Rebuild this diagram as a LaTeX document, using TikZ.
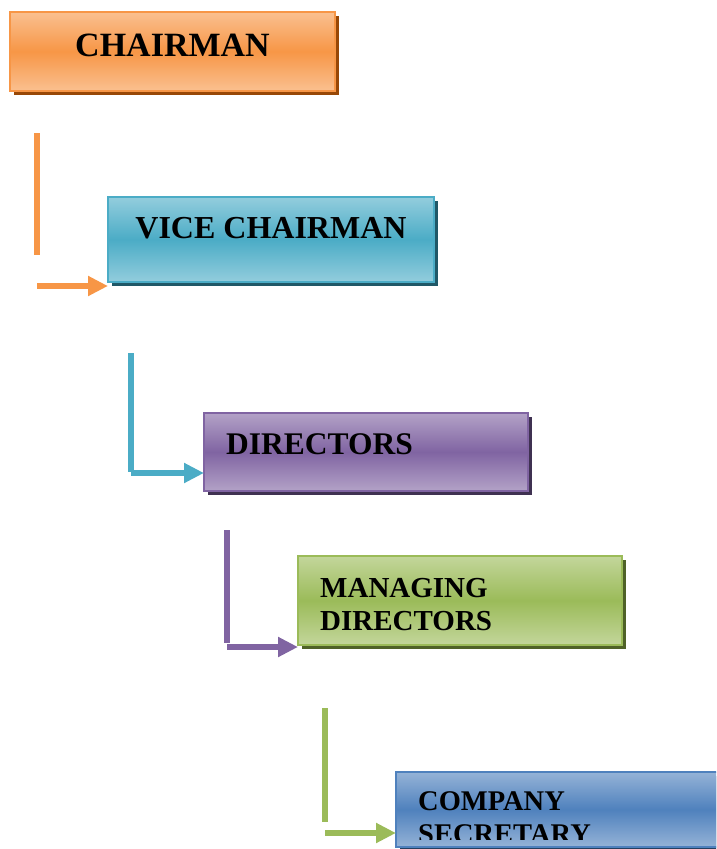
\documentclass[tikz,border=0pt]{standalone}
\usepackage{fontspec}
\setmainfont{Liberation Serif}
\usetikzlibrary{arrows.meta}
\usetikzlibrary{shadows}
\usetikzlibrary{positioning}
\definecolor{orangelight}{HTML}{FAC090}\definecolor{orangemid}{HTML}{F79646}\definecolor{orangedark}{HTML}{984807}
\definecolor{teallight}{HTML}{93CDDD}\definecolor{tealmid}{HTML}{4BACC6}\definecolor{tealdark}{HTML}{205867}
\definecolor{purplelight}{HTML}{B3A2C7}\definecolor{purplemid}{HTML}{8064A2}\definecolor{purpledark}{HTML}{3F3151}
\definecolor{greenlight}{HTML}{C3D69B}\definecolor{greenmid}{HTML}{9BBB59}\definecolor{greendark}{HTML}{4F6228}
\definecolor{bluelight}{HTML}{95B3D7}\definecolor{bluemid}{HTML}{4F81BD}\definecolor{bluedark}{HTML}{244061}
\begin{document}
\begin{tikzpicture}[x=1pt,y=-1pt,
  post/.style={draw=#1mid,line width=2pt,inner sep=0pt,outer sep=0pt,anchor=north west,
    top color=#1light,bottom color=#1light,middle color=#1mid,
    general shadow={shadow xshift=4pt,shadow yshift=-4pt,fill=#1dark}},
  link/.style={draw=#1mid,line width=6pt},
  linkarrow/.style={link=#1,-{Triangle[length=20pt,width=19pt]}},
  title/.style={inner sep=0pt,align=left,font=\bfseries\fontsize{#1}{33}\selectfont}]
  \clip (0,0) rectangle (716,849);
  \node[post=orange,minimum width=325pt,minimum height=79pt] (chair) at (10,12) {};
  \node[post=teal,minimum width=326pt,minimum height=85pt] (vice) at (108,197) {};
  \node[post=purple,minimum width=324pt,minimum height=78pt] (dirs) at (204,413) {};
  \node[post=green,minimum width=324pt,minimum height=89pt] (mdirs) at (298,556) {};
  \node[post=blue,minimum width=340pt,minimum height=75pt] (csec) at (396,772) {};
  \node[title=34,anchor=base] (chairtext) at ([shift={(162.5,44)}]chair.north west) {CHAIRMAN};
  \node[title=32,anchor=base] (vicetext) at ([shift={(163,41)}]vice.north west) {VICE CHAIRMAN};
  \node[title=31.5,anchor=base west] (dirstext) at ([shift={(22,41)}]dirs.north west) {DIRECTORS};
  \node[title=29,anchor=base west] (mdirstext) at ([shift={(22,74)}]mdirs.north west) {MANAGING\\DIRECTORS};
  \begin{scope}
    \clip (csec.north west) rectangle (716,839);
    \node[title=28.5,anchor=base west] (csectext) at ([shift={(22,71)}]csec.north west) {COMPANY\\SECRETARY};
  \end{scope}
  \coordinate (o1) at (37,133); \coordinate (o2) at (37,255); \coordinate (o3) at (37,286);
  \coordinate (t1) at (131,353); \coordinate (t2) at (131,472); \coordinate (t3) at (131,473);
  \coordinate (p1) at (227,530); \coordinate (p2) at (227,643); \coordinate (p3) at (227,647);
  \coordinate (g1) at (325,708); \coordinate (g2) at (325,822); \coordinate (g3) at (325,833);
  \draw[link=orange](o1)--(o2);
  \draw[linkarrow=orange](o3)--(o3-|vice.west);
  \draw[link=teal](t1)--(t2);
  \draw[linkarrow=teal](t3)--(t3-|dirs.west);
  \draw[link=purple](p1)--(p2);
  \draw[linkarrow=purple](p3)--(p3-|mdirs.west);
  \draw[link=green](g1)--(g2);
  \draw[linkarrow=green](g3)--(g3-|csec.west);
\end{tikzpicture}
\end{document}
